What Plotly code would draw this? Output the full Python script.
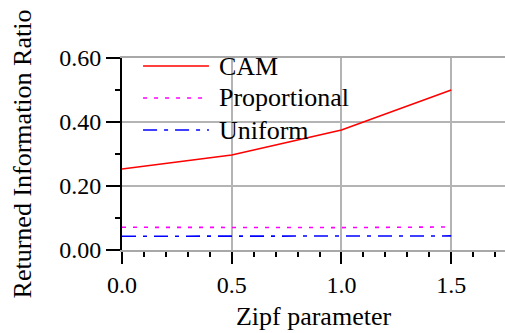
import plotly.graph_objects as go

# Zipf skew values on the x axis
zipf = [0.0, 0.5, 1.0, 1.5]

# Returned information ratio for each allocation scheme
cam = [0.253, 0.297, 0.375, 0.500]
proportional = [0.071, 0.070, 0.070, 0.072]
uniform = [0.043, 0.043, 0.043, 0.044]

series_names = ["CAM", "Proportional", "Uniform"]
series_values = [cam, proportional, uniform]
series_colors = ["#ff0000", "#ff00ff", "#0000ff"]
series_dashes = ["solid", "4px,7px", "14px,7px,4px,7px"]

FONT = "Times New Roman"

fig = go.Figure()
for name, vals, col, dash in zip(series_names, series_values, series_colors, series_dashes):
    fig.add_trace(go.Scatter(
        x=zipf, y=vals, mode="lines", name=name,
        line=dict(color=col, width=1.6, dash=dash),
        showlegend=False,
    ))

# Hand-drawn legend box in the upper-left corner of the plot area
row_y = [0.958, 0.792, 0.625]
for name, col, dash, yy in zip(series_names, series_colors, series_dashes, row_y):
    fig.add_shape(type="line", xref="paper", yref="paper",
                  x0=0.055, x1=0.227, y0=yy, y1=yy,
                  line=dict(color=col, width=1.6, dash=dash))
    fig.add_annotation(xref="paper", yref="paper", x=0.249, y=yy,
                       text=name, showarrow=False, xanchor="left", yanchor="middle",
                       font=dict(family=FONT, size=26, color="black"))

grid_col = "#b4b4b4"
fig.update_xaxes(
    range=[0, 1.745], dtick=0.5, tick0=0, tickformat=".1f",
    showgrid=True, gridcolor=grid_col, gridwidth=1.5,
    zeroline=False,
    showline=True, linecolor="#a8a8a8", linewidth=2, mirror=True,
    ticks="outside", ticklen=12, tickwidth=1.5, tickcolor="black",
    minor=dict(dtick=0.1, ticks="outside", ticklen=5, tickwidth=1.5,
               tickcolor="black", showgrid=False),
    tickfont=dict(family=FONT, size=24, color="black"),
    title=dict(text="Zipf parameter", font=dict(family=FONT, size=26, color="black"),
               standoff=10),
)
fig.update_yaxes(
    range=[0, 0.6], dtick=0.2, tick0=0, tickformat=".2f",
    showgrid=True, gridcolor=grid_col, gridwidth=1.5,
    zeroline=False,
    showline=True, linecolor="black", linewidth=2,
    ticks="outside", ticklen=14, tickwidth=1.5, tickcolor="black",
    minor=dict(dtick=0.1, ticks="outside", ticklen=5, tickwidth=1.5,
               tickcolor="black", showgrid=False),
    tickfont=dict(family=FONT, size=24, color="black"),
    title=dict(text="Returned Information Ratio",
               font=dict(family=FONT, size=26, color="black"), standoff=20),
)
fig.update_layout(
    width=505, height=333,
    margin=dict(l=122, r=0, t=58, b=83),
    paper_bgcolor="white", plot_bgcolor="white",
)

fig.write_html("out.html")
